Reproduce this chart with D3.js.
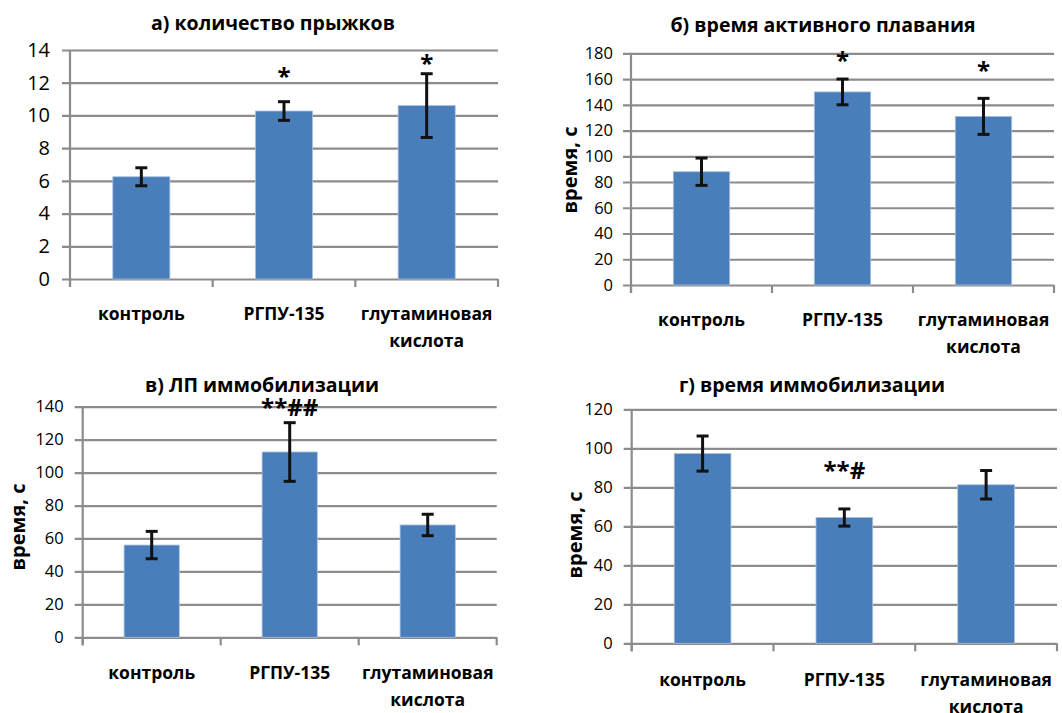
<!DOCTYPE html>
<html>
<head>
<meta charset="utf-8">
<script src="https://cdn.jsdelivr.net/npm/d3@7"></script>
<style>
	body { margin: 0; background: #fff; }
	text { font-family: "Open Sans", "DejaVu Sans", sans-serif; fill: #000; }
	.title { font-weight: bold; }
	.catLabel { font-weight: bold; }
	.yLabel { font-weight: bold; }
	.mark { font-weight: bold; }
</style>
</head>
<body>
<div id="chart"></div>
<script>
// data
var categories = ["контроль", "РГПУ-135", "глутаминовая кислота"];

var jumpsMean = [6.25, 10.27, 10.6];
var jumpsErr = [0.55, 0.57, 1.95];
var jumpsMarks = ["", "*", "*"];

var swimMean = [88, 150, 131];
var swimErr = [10.6, 10, 14];
var swimMarks = ["", "*", "*"];

var latencyMean = [56, 112.5, 68.2];
var latencyErr = [8.3, 17.8, 6.5];
var latencyMarks = ["", "**##", ""];

var immobMean = [97.3, 64.5, 81.3];
var immobErr = [9, 4.4, 7.3];
var immobMarks = ["", "**#", ""];

var titles = ["а) количество прыжков", "б) время активного плавания", "в) ЛП иммобилизации", "г) время иммобилизации"];
var yMax = [14, 180, 140, 120];
var yStep = [2, 20, 20, 20];

// svg params
var svgWidth = 1062;
var svgHeight = 713;

var svg = d3.select("#chart")
	.append("svg")
	.attr("width", svgWidth)
	.attr("height", svgHeight);

// panel placement
var panels = [
	{ mean: jumpsMean, err: jumpsErr, marks: jumpsMarks, left: 70, right: 498, top: 50, bottom: 279,
		tickFont: 20, tickPad: 20, titleX: 273, titleY: 30, yLabel: null, catY: 320, markDy: [0, 17, 2], markSize: 24 },
	{ mean: swimMean, err: swimErr, marks: swimMarks, left: 631, right: 1054, top: 53.3, bottom: 285,
		tickFont: 16.5, tickPad: 18, titleX: 823, titleY: 32, yLabel: { x: 570, y: 170 }, catY: 326, markDy: [0, 10, 19], markSize: 24 },
	{ mean: latencyMean, err: latencyErr, marks: latencyMarks, left: 82.7, right: 496.7, top: 406.7, bottom: 637.3,
		tickFont: 16.5, tickPad: 19, titleX: 262, titleY: 392, yLabel: { x: 18, y: 527 }, catY: 679, markDy: [0, 7, 0], markSize: 24 },
	{ mean: immobMean, err: immobErr, marks: immobMarks, left: 631.7, right: 1057, top: 409.3, bottom: 643.3,
		tickFont: 16.5, tickPad: 19, titleX: 812, titleY: 392, yLabel: { x: 575, y: 535 }, catY: 686, markDy: [0, 30, 0], markSize: 24 }
];

panels.forEach(function(p, i) {
	var g = svg.append("g");

	// scales
	var xScale = d3.scaleBand()
		.domain(categories)
		.range([p.left, p.right])
		.paddingInner(0.6)
		.paddingOuter(0.3);

	var yScale = d3.scaleLinear()
		.domain([0, yMax[i]])
		.range([p.bottom, p.top]);

	var ticks = d3.range(0, yMax[i] + yStep[i] / 2, yStep[i]);

	// gridlines and y axis
	var leftAxis = d3.axisLeft(yScale)
		.tickValues(ticks)
		.tickSize(-(p.right - p.left))
		.tickPadding(p.tickPad)
		.tickFormat(d3.format("d"));

	var yAxis = g.append("g")
		.attr("transform", `translate(${p.left}, 0)`)
		.call(leftAxis);
	yAxis.select(".domain").remove();
	yAxis.selectAll(".tick line")
		.attr("x1", -8)
		.attr("stroke", "#8c8c8c")
		.attr("stroke-width", 2.2);
	yAxis.selectAll(".tick text")
		.style("font-size", p.tickFont + "px")
		.attr("fill", "#000");

	// vertical axis line
	g.append("line")
		.attr("x1", p.left).attr("x2", p.left)
		.attr("y1", p.top).attr("y2", p.bottom + 8)
		.attr("stroke", "#8c8c8c")
		.attr("stroke-width", 2.2);

	// category separators below the axis
	var step = xScale.step();
	var seps = d3.range(0, categories.length + 1).map(k => p.left + k * step);
	g.selectAll(".sep")
		.data(seps)
		.enter()
		.append("line")
		.attr("x1", d => d).attr("x2", d => d)
		.attr("y1", p.bottom).attr("y2", p.bottom + 8)
		.attr("stroke", "#8c8c8c")
		.attr("stroke-width", 2.2);

	// bars
	g.selectAll(".bar")
		.data(p.mean)
		.enter()
		.append("rect")
		.attr("x", (d, k) => xScale(categories[k]))
		.attr("y", d => yScale(d))
		.attr("width", xScale.bandwidth())
		.attr("height", d => p.bottom - yScale(d))
		.attr("fill", "#4a7ebb")
		.attr("stroke", "#a8c0e0")
		.attr("stroke-width", 0.8);

	// error bars
	var eb = g.selectAll(".err")
		.data(p.mean)
		.enter()
		.append("g")
		.attr("transform", (d, k) => `translate(${xScale(categories[k]) + xScale.bandwidth() / 2}, 0)`);

	eb.append("line")
		.attr("y1", (d, k) => yScale(d + p.err[k]))
		.attr("y2", (d, k) => yScale(d - p.err[k]))
		.attr("stroke", "#111")
		.attr("stroke-width", 3);
	eb.append("line")
		.attr("x1", -6).attr("x2", 6)
		.attr("y1", (d, k) => yScale(d + p.err[k]))
		.attr("y2", (d, k) => yScale(d + p.err[k]))
		.attr("stroke", "#111")
		.attr("stroke-width", 3);
	eb.append("line")
		.attr("x1", -6).attr("x2", 6)
		.attr("y1", (d, k) => yScale(d - p.err[k]))
		.attr("y2", (d, k) => yScale(d - p.err[k]))
		.attr("stroke", "#111")
		.attr("stroke-width", 3);

	// significance marks
	eb.append("text")
		.attr("class", "mark")
		.attr("text-anchor", "middle")
		.attr("y", (d, k) => yScale(d + p.err[k]) - p.markDy[k])
		.style("font-size", p.markSize + "px")
		.text((d, k) => p.marks[k]);

	// category labels
	g.selectAll(".catLabel")
		.data(categories)
		.enter()
		.append("text")
		.attr("class", "catLabel")
		.attr("text-anchor", "middle")
		.attr("x", d => xScale(d) + xScale.bandwidth() / 2)
		.attr("y", p.catY)
		.style("font-size", "17.5px")
		.each(function(d) {
			var words = d.split(" ");
			var t = d3.select(this);
			words.forEach(function(w, j) {
				t.append("tspan")
					.attr("x", xScale(d) + xScale.bandwidth() / 2)
					.attr("dy", j === 0 ? 0 : "1.55em")
					.text(w);
			});
		});

	// title
	g.append("text")
		.attr("class", "title")
		.attr("text-anchor", "middle")
		.attr("x", p.titleX)
		.attr("y", p.titleY)
		.style("font-size", "19.5px")
		.text(titles[i]);

	// y axis label
	if (p.yLabel) {
		g.append("text")
			.attr("class", "yLabel")
			.attr("text-anchor", "middle")
			.attr("transform", `translate(${p.yLabel.x}, ${p.yLabel.y}) rotate(-90)`)
			.attr("dy", "0.35em")
			.style("font-size", "20px")
			.text("время, с");
	}
});
</script>
</body>
</html>
